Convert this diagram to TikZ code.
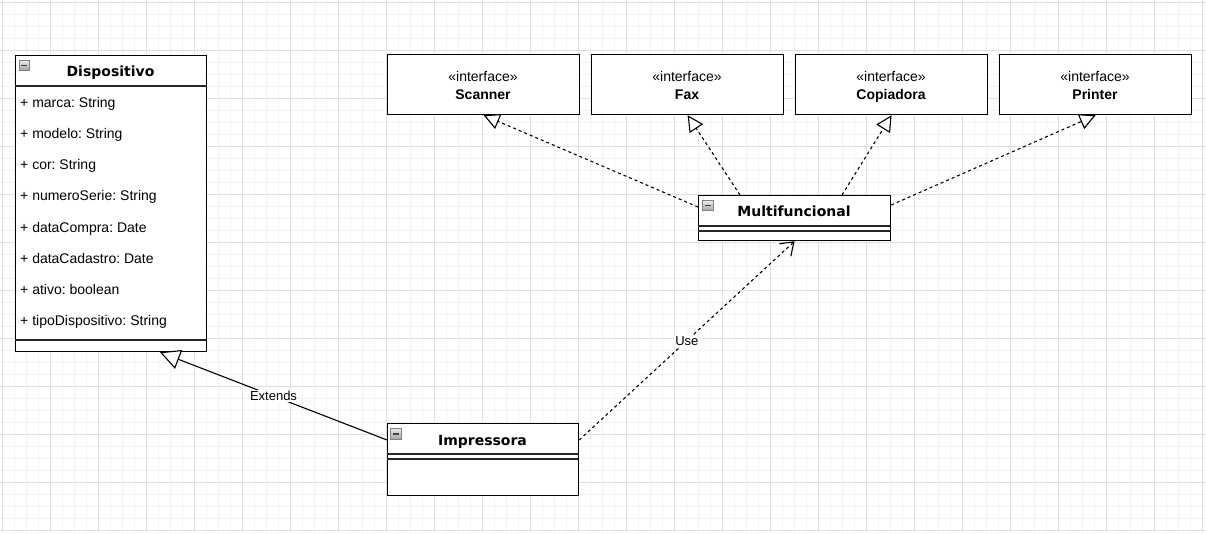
\documentclass[tikz,border=0pt]{standalone}
\usepackage{fontspec}
\setmainfont{Liberation Sans}
\newfontfamily\titlefont{DejaVu Sans}
\usetikzlibrary{arrows.meta}

\begin{document}
\frenchspacing
\begin{tikzpicture}[x=1pt,y=-1pt,
  every node/.style={inner sep=0pt, font=\fontsize{14}{17}\selectfont},
  umlbox/.style={draw=black, line width=1.2pt, fill=white, anchor=north west},
  divider/.style={draw=black!85, line width=1.2pt},
  classtitle/.style={anchor=base, font=\titlefont\bfseries\fontsize{14}{17}\selectfont},
  attr/.style={anchor=base west},
  stereo/.style={anchor=base},
  ifname/.style={anchor=base, font=\bfseries\fontsize{14}{17}\selectfont},
  edgelabel/.style={fill=white, inner sep=1.5pt, font=\fontsize{13}{15}\selectfont},
  realize/.style={draw=black, line width=1.1pt, dash pattern=on 3pt off 3pt,
    -{Triangle[length=16pt,width=16pt,fill=white,line width=1.1pt]}},
  extends/.style={draw=black, line width=1.1pt,
    -{Triangle[length=20pt,width=20pt,fill=white,line width=1.1pt]}},
  uses/.style={draw=black, line width=1.1pt, dash pattern=on 3pt off 3pt,
    -{Straight Barb[length=12pt,width=17pt,line width=1.1pt]}},
  minorgrid/.style={draw=black!5, line width=0.8pt},
  majorgrid/.style={draw=black!12, line width=0.8pt},
  iconbox/.style={draw=black!50, line width=0.6pt, top color=black!8, bottom color=black!35},
  iconbar/.style={draw=black!75, line width=1.6pt}
]
% canvas and grid
\useasboundingbox (0,0) rectangle (1206,533);
\fill[white] (0,0) rectangle (1206,533);
\foreach \g in {2,14,...,1206} \draw[minorgrid] (\g,0) -- (\g,533);
\foreach \g in {2,14,...,533} \draw[minorgrid] (0,\g) -- (1206,\g);
\foreach \g in {2,50,...,1206} \draw[majorgrid] (\g,0) -- (\g,533);
\foreach \g in {2,50,...,533} \draw[majorgrid] (0,\g) -- (1206,\g);

% class Dispositivo
\node[umlbox, minimum width=191pt, minimum height=296pt] (disp) at (15,55) {};
\draw[divider] (15,86) -- (206,86);
\draw[divider] (15,340) -- (206,340);
\draw[iconbox] (19,60.5) rectangle (29,70);
\draw[iconbar] (21,65.3) -- (27,65.3);
\node[classtitle] (dispT) at (110.5,76.5) {Dispositivo};
\node[attr] (a1) at (20,107.5) {+ marca: String};
\node[attr] (a2) at (20,138.6) {+ modelo: String};
\node[attr] (a3) at (20,169.8) {+ cor: String};
\node[attr] (a4) at (20,200.9) {+ numeroSerie: String};
\node[attr] (a5) at (20,232.1) {+ dataCompra: Date};
\node[attr] (a6) at (20,263.2) {+ dataCadastro: Date};
\node[attr] (a7) at (20,294.3) {+ ativo: boolean};
\node[attr] (a8) at (20,325.5) {+ tipoDispositivo: String};

% interfaces
\node[umlbox, minimum width=192pt, minimum height=60pt] (scanner) at (387,54) {};
\node[stereo] (scannerS) at (483,81.5) {«interface»};
\node[ifname] (scannerN) at (483,99) {Scanner};

\node[umlbox, minimum width=192pt, minimum height=60pt] (fax) at (591,54) {};
\node[stereo] (faxS) at (687,81.5) {«interface»};
\node[ifname] (faxN) at (687,99) {Fax};

\node[umlbox, minimum width=192pt, minimum height=60pt] (copi) at (795,54) {};
\node[stereo] (copiS) at (891,81.5) {«interface»};
\node[ifname] (copiN) at (891,99) {Copiadora};

\node[umlbox, minimum width=192pt, minimum height=60pt] (printer) at (999,54) {};
\node[stereo] (printerS) at (1095,81.5) {«interface»};
\node[ifname] (printerN) at (1095,99) {Printer};

% class Multifuncional
\node[umlbox, minimum width=192pt, minimum height=45pt] (multi) at (698,195) {};
\draw[divider] (698,226) -- (890,226);
\draw[divider] (698,231) -- (890,231);
\draw[iconbox] (702.5,200.5) rectangle (713,210.5);
\draw[iconbar] (704.8,205.5) -- (710.8,205.5);
\node[classtitle] (multiT) at (794,216.7) {Multifuncional};

% class Impressora
\node[umlbox, minimum width=191pt, minimum height=72pt] (impr) at (387,423) {};
\draw[divider] (387,454) -- (578,454);
\draw[divider] (387,459) -- (578,459);
\draw[iconbox] (390.5,428.5) rectangle (401.5,439);
\draw[iconbar] (393,433.8) -- (399,433.8);
\node[classtitle] (imprT) at (482.5,445) {Impressora};

% realizations
\draw[realize] ([yshift=-12pt]multi.north west) -- (scanner.south);
\draw[realize] ([xshift=42pt]multi.north west) -- (fax.south);
\draw[realize] ([xshift=144pt]multi.north west) -- (copi.south);
\draw[realize] ([yshift=-10pt]multi.north east) -- (printer.south);

% generalization and dependency
\draw[extends] ([yshift=-17pt]impr.north west) -- ([xshift=145pt]disp.south west)
  node[edgelabel, midway] (extL) {Extends};
\draw[uses] ([yshift=-17pt]impr.north east) -- (multi.south)
  node[edgelabel, midway] (useL) {Use};
\end{tikzpicture}
\end{document}
